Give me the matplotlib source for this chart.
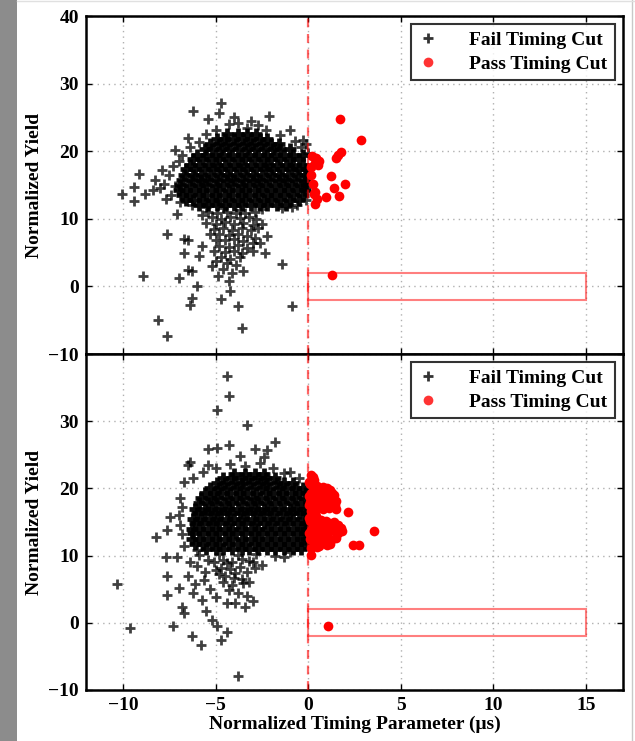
import matplotlib
matplotlib.use('Agg')
import matplotlib.pyplot as plt
from matplotlib.patches import Rectangle
from matplotlib.lines import Line2D

plt.rcParams['font.family'] = ['Liberation Serif', 'DejaVu Serif']
plt.rcParams['font.weight'] = 'bold'
plt.rcParams['font.size'] = 14

# ---- data ----
x_ticks = [-10, -5, 0, 5, 10, 15]
y_ticks = [-10, 0, 10, 20, 30, 40]
cut_box_x = [0, 15]
cut_box_y = [-2, 2]
legend_labels = ['Fail Timing Cut', 'Pass Timing Cut']

# dense core of the top panel, one row per yield level: (y, [x...])
top_core_rows = [
    (12.0, [-5.9, -5.4, -4.9, -4.5, -4.0, -3.6, -3.1, -2.6, -2.2, -1.7, -1.2]),
    (12.8, [-6.6, -6.2, -5.7, -5.2, -4.8, -4.3, -3.8, -3.4, -2.9, -2.4, -2.0, -1.5, -1.0, -0.5]),
    (13.5, [-6.8, -6.4, -5.9, -5.5, -5.0, -4.5, -4.1, -3.6, -3.2, -2.7, -2.2, -1.8, -1.3, -0.8, -0.3]),
    (14.3, [-7.0, -6.6, -6.1, -5.7, -5.2, -4.8, -4.3, -3.8, -3.4, -2.9, -2.5, -2.0, -1.5, -1.1, -0.6, -0.2]),
    (15.0, [-6.9, -6.4, -5.9, -5.5, -5.0, -4.6, -4.1, -3.6, -3.2, -2.7, -2.3, -1.8, -1.3, -0.9, -0.4, -0.1]),
    (15.8, [-6.8, -6.3, -5.8, -5.4, -4.9, -4.4, -4.0, -3.5, -3.0, -2.6, -2.1, -1.6, -1.2, -0.7, -0.2]),
    (16.5, [-6.7, -6.2, -5.8, -5.3, -4.8, -4.4, -3.9, -3.4, -3.0, -2.5, -2.0, -1.6, -1.1, -0.6, -0.2]),
    (17.3, [-6.6, -6.1, -5.6, -5.1, -4.7, -4.2, -3.7, -3.3, -2.8, -2.3, -1.9, -1.4, -0.9, -0.5, -0.1]),
    (18.0, [-6.4, -5.9, -5.4, -5.0, -4.5, -4.0, -3.6, -3.1, -2.6, -2.2, -1.7, -1.2, -0.8, -0.3]),
    (18.8, [-6.2, -5.7, -5.2, -4.8, -4.3, -3.8, -3.4, -2.9, -2.4, -2.0, -1.5, -1.0, -0.5]),
    (19.5, [-6.0, -5.5, -5.0, -4.6, -4.1, -3.6, -3.2, -2.7, -2.2, -1.8, -1.3, -0.8, -0.3]),
    (20.3, [-5.6, -5.2, -4.7, -4.3, -3.8, -3.3, -2.9, -2.4, -1.9, -1.5, -1.0]),
    (21.0, [-5.3, -4.8, -4.4, -3.9, -3.4, -3.0, -2.5, -2.0, -1.6]),
    (21.8, [-4.9, -4.5, -4.0, -3.5, -3.1, -2.6, -2.2]),
    (22.5, [-4.4, -3.8, -3.3, -2.8]),
]

top_tail = [
    (-5.4, 11.0), (-4.9, 10.9), (-4.4, 11.0), (-3.9, 10.8), (-3.4, 10.9), (-2.9, 11.0),
    (-5.2, 10.2), (-4.7, 10.0), (-4.2, 10.3), (-3.7, 10.1), (-3.2, 10.2), (-2.8, 9.9),
    (-5.5, 9.4), (-5.0, 9.3), (-4.5, 9.5), (-4.0, 9.2), (-3.5, 9.4), (-3.0, 9.1),
    (-5.1, 8.5), (-4.6, 8.6), (-4.1, 8.4), (-3.6, 8.6), (-3.1, 8.3), (-2.7, 8.6),
    (-5.3, 7.7), (-4.8, 7.8), (-4.3, 7.6), (-3.8, 7.8), (-3.3, 7.5), (-2.9, 7.2),
    (-5.0, 6.9), (-4.5, 6.8), (-4.0, 7.0), (-3.5, 6.7), (-3.0, 6.4), (-4.8, 6.0),
    (-4.3, 5.9), (-3.8, 6.1), (-3.3, 5.7), (-5.1, 5.3), (-4.5, 5.1), (-4.0, 5.3),
    (-3.6, 4.9), (-3.0, 5.2), (-4.7, 4.3), (-4.2, 4.1), (-3.7, 4.4), (-4.4, 3.4),
    (-3.9, 3.2), (-4.6, 2.6), (-4.1, 2.0), (-5.0, 3.8), (-2.6, 6.4), (-2.2, 7.4),
]

top_outliers = [
    (-6.2, 25.9), (-4.7, 27.2), (-4.8, 25.7), (-5.4, 24.7), (-3.8, 24.2), (-2.1, 25.2),
    (-2.7, 23.9), (-1.0, 23.2), (-0.3, 21.7), (-6.5, 21.9), (-7.2, 20.2), (-9.15, 16.7),
    (-9.4, 14.7), (-10.05, 13.6), (-9.4, 12.7), (-8.8, 13.6), (-8.4, 14.2), (-7.8, 15.2),
    (-7.5, 16.5), (-7.9, 17.2), (-7.4, 13.5), (-7.1, 10.7), (-5.75, 10.5), (-2.5, 9.3),
    (-0.9, 11.8), (-7.6, 7.8), (-6.7, 7.0), (-6.5, 6.8), (-6.7, 5.0), (-5.75, 6.0),
    (-5.9, 4.5), (-6.5, 2.5), (-6.3, 2.3), (-7.0, 1.3), (-8.9, 1.5), (-6.0, 0.0),
    (-6.3, -1.7), (-6.4, -2.7), (-4.7, -1.9), (-3.8, -2.9), (-4.2, -0.7), (-8.1, -4.9),
    (-7.6, -7.4), (-3.6, -6.2), (-0.9, -2.9), (-1.4, 3.3), (-2.35, 5.0), (-3.5, 2.3),
    (-4.3, 0.8), (-5.2, 3.0), (-4.85, 1.5),
    (-8.3, 15.8), (-8.0, 14.6), (-7.7, 13.0), (-7.3, 17.8), (-7.0, 18.6), (-6.8, 19.5),
    (-6.4, 20.6), (-5.9, 21.4), (-5.5, 22.5), (-5.0, 23.2), (-4.3, 24.0), (-3.3, 23.4),
    (-2.3, 23.2), (-1.5, 22.4), (-0.7, 21.5), (-0.4, 20.6), (-0.1, 21.0), (0.0, 19.8),
    (-0.1, 12.8), (-0.6, 12.0), (-1.4, 11.6), (-2.5, 11.5), (-3.7, 11.3), (-4.6, 11.6),
    (-5.5, 11.8), (-6.3, 12.0), (-6.9, 12.5), (-7.2, 14.8), (-4.0, 25.0), (-3.1, 24.5),
]

top_pass = [
    (1.72, 24.8), (2.85, 21.7), (1.77, 19.95), (1.5, 19.05), (1.6, 19.4), (0.43, 19.0),
    (0.34, 18.2), (0.6, 18.5), (0.16, 17.7), (0.52, 17.95), (1.24, 16.4), (0.25, 15.2),
    (1.41, 14.6), (1.99, 15.1), (0.34, 14.0), (0.97, 13.2), (1.65, 13.4), (0.34, 12.2),
    (0.5, 13.0), (0.16, 16.5), (0.3, 13.7), (0.2, 19.3), (1.27, 1.65),
]

bot_core_rows = [
    (11.0, [-5.5, -5.0, -4.6, -4.1, -3.6, -3.2, -2.7, -2.2, -1.8, -1.3, -0.8, -0.4]),
    (11.8, [-6.1, -5.7, -5.2, -4.8, -4.3, -3.8, -3.4, -2.9, -2.5, -2.0, -1.5, -1.1, -0.6, -0.2]),
    (12.5, [-6.3, -5.9, -5.4, -5.0, -4.5, -4.1, -3.6, -3.1, -2.7, -2.2, -1.8, -1.3, -0.8, -0.4, -0.1]),
    (13.3, [-6.2, -5.7, -5.2, -4.8, -4.3, -3.9, -3.4, -2.9, -2.5, -2.0, -1.5, -1.1, -0.6, -0.2]),
    (14.0, [-6.3, -5.9, -5.4, -5.0, -4.5, -4.1, -3.6, -3.1, -2.7, -2.2, -1.8, -1.3, -0.8, -0.4, -0.1]),
    (14.8, [-6.1, -5.7, -5.2, -4.8, -4.3, -3.8, -3.4, -2.9, -2.4, -2.0, -1.5, -1.1, -0.6, -0.2]),
    (15.5, [-6.2, -5.8, -5.3, -4.9, -4.4, -4.0, -3.5, -3.0, -2.6, -2.1, -1.7, -1.2, -0.8, -0.3]),
    (16.3, [-6.0, -5.6, -5.1, -4.7, -4.2, -3.7, -3.3, -2.8, -2.4, -1.9, -1.4, -1.0, -0.5, -0.1]),
    (17.0, [-6.1, -5.6, -5.2, -4.7, -4.3, -3.8, -3.3, -2.9, -2.4, -2.0, -1.5, -1.0, -0.6, -0.2]),
    (17.8, [-5.9, -5.4, -5.0, -4.5, -4.1, -3.6, -3.1, -2.7, -2.2, -1.8, -1.3, -0.8, -0.4]),
    (18.5, [-5.8, -5.3, -4.9, -4.4, -3.9, -3.5, -3.0, -2.6, -2.1, -1.6, -1.2, -0.7, -0.2]),
    (19.3, [-5.6, -5.1, -4.7, -4.2, -3.7, -3.3, -2.8, -2.3, -1.9, -1.4, -0.9, -0.5, -0.1]),
    (20.0, [-5.3, -4.8, -4.4, -3.9, -3.5, -3.0, -2.5, -2.1, -1.6, -1.2, -0.7, -0.3]),
    (20.8, [-4.9, -4.5, -4.0, -3.6, -3.1, -2.6, -2.2, -1.7, -1.3, -0.8]),
    (21.5, [-4.6, -4.1, -3.6, -3.2, -2.7, -2.3, -1.8]),
    (22.2, [-4.0, -3.4, -2.9, -2.4]),
]

bot_tail = [
    (-5.1, 9.0), (-4.6, 9.3), (-4.1, 9.0), (-3.6, 9.5), (-2.9, 8.2), (-4.7, 8.2),
    (-4.2, 8.0), (-3.7, 8.3), (-3.3, 7.6), (-4.5, 7.0), (-4.0, 6.7), (-3.6, 6.5),
    (-3.2, 6.0), (-4.6, 6.0), (-4.1, 5.6), (-3.8, 4.5), (-3.3, 4.0), (-3.0, 3.2),
    (-5.3, 5.0), (-5.6, 7.6), (-6.0, 8.4), (-6.1, 5.8), (-5.5, 1.8), (-6.2, 4.5),
]

bot_outliers = [
    (-4.4, 36.8), (-4.3, 33.7), (-4.95, 31.6), (-3.3, 29.4), (-1.8, 26.9), (-4.3, 26.4),
    (-4.95, 26.0), (-5.4, 25.8), (-6.4, 24.0), (-6.5, 23.5), (-2.2, 25.7), (-2.9, 25.8),
    (-1.0, 22.5), (-5.4, 23.5), (-7.45, 15.8), (-7.6, 13.8), (-8.2, 12.8), (-10.3, 5.8),
    (-9.6, -0.8), (-7.3, -0.5), (-6.3, -2.0), (-5.8, -3.3), (-3.8, -7.9), (-4.4, -1.3),
    (-4.7, -2.5), (-4.95, -0.55), (-7.7, 9.85), (-7.1, 9.85), (-7.6, 6.9), (-7.6, 4.2),
    (-7.0, 5.2), (-6.5, 6.9), (-6.4, 9.1), (-6.8, 2.4), (-6.7, 1.45), (-5.75, 3.4),
    (-5.65, 6.4), (-5.0, 7.9), (-5.0, 3.9), (-5.2, 0.45), (-4.4, 2.9), (-3.95, 2.9),
    (-3.4, 2.4), (-4.3, 4.9), (-3.5, 5.9), (-3.95, 7.4), (-3.0, 9.1), (-1.3, 9.85),
    (-5.4, 9.4), (-5.9, 10.1),
    (-6.7, 21.0), (-6.2, 21.6), (-5.7, 22.4), (-5.0, 23.0), (-4.2, 23.6), (-3.4, 23.4),
    (-2.6, 23.8), (-1.9, 23.0), (-2.4, 24.6), (-3.7, 24.8), (-1.3, 22.3), (-0.5, 21.6),
    (-6.9, 18.5), (-6.8, 17.2), (-7.0, 16.0), (-6.9, 14.6), (-6.8, 13.2), (-6.7, 11.5),
    (-6.0, 10.8), (-4.8, 10.3), (-3.8, 10.1), (-2.8, 10.3), (-1.8, 10.0), (-1.0, 10.6),
    (-3.2, 9.2), (-4.4, 8.9), (-4.8, 7.2), (-2.5, 8.6),
]

bot_pass = [
    # column hugging the cut line
    (0.15, 22.0), (0.3, 21.3), (0.1, 20.6), (0.35, 20.0), (0.15, 19.3), (0.4, 18.6),
    (0.1, 18.0), (0.35, 17.3), (0.15, 16.6), (0.4, 15.9), (0.1, 15.2), (0.35, 14.5),
    (0.15, 13.8), (0.4, 13.1), (0.1, 12.4), (0.35, 11.7), (0.15, 11.2), (0.16, 10.1),
    (0.25, 21.7), (0.05, 21.0), (0.45, 20.3), (0.25, 19.6), (0.05, 18.9), (0.3, 18.3),
    (0.05, 17.6), (0.45, 16.9), (0.3, 16.2), (0.05, 15.6), (0.45, 14.8), (0.25, 14.1),
    (0.05, 13.4), (0.45, 12.7), (0.3, 12.0), (0.5, 11.3),
    # upper bulge
    (0.8, 20.2), (1.2, 19.8), (0.7, 19.3), (1.4, 19.0), (1.0, 18.5), (0.6, 18.0),
    (1.5, 18.1), (1.2, 17.5), (0.8, 17.0), (1.5, 16.9),
    (1.0, 20.0), (0.55, 19.7), (1.3, 19.3), (0.9, 18.9), (1.25, 18.4), (0.75, 18.3),
    (0.95, 17.7), (1.45, 17.6), (0.6, 17.3), (1.1, 17.1),
    # lower bulge
    (0.7, 15.3), (1.1, 14.9), (1.6, 14.6), (0.8, 14.2), (1.3, 13.8), (1.8, 13.7),
    (0.6, 13.3), (1.0, 12.9), (1.5, 12.6), (0.7, 12.2), (1.2, 11.8), (0.6, 11.4),
    (0.95, 15.2), (1.4, 15.0), (0.55, 14.6), (1.0, 14.4), (1.5, 14.2), (1.75, 14.1),
    (0.55, 13.6), (1.05, 13.4), (1.6, 13.3), (0.85, 12.6), (1.25, 12.3), (1.0, 11.6),
    (0.85, 11.9),
    # stragglers
    (2.17, 16.5), (3.53, 13.7), (2.4, 11.6), (2.76, 11.6), (1.09, -0.45),
]


def flatten_rows(rows):
    pts = []
    for y, xs in rows:
        pts.extend((x, y) for x in xs)
    return pts


def draw_panel(ax, core_pts, fail_pts, pass_pts):
    cx = [p[0] for p in core_pts]
    cy = [p[1] for p in core_pts]
    fx = [p[0] for p in fail_pts]
    fy = [p[1] for p in fail_pts]
    px = [p[0] for p in pass_pts]
    py = [p[1] for p in pass_pts]

    # dense core: heavy strokes so the blob reads solid, like the original
    ax.plot(cx, cy, linestyle='none', marker='+', color='black', ms=8.5, mew=3.4,
            alpha=0.95, zorder=3)
    ax.plot(fx, fy, linestyle='none', marker='+', color='black', ms=7.5, mew=2.0,
            alpha=0.75, zorder=3, label=legend_labels[0])
    ax.axvline(0, color='red', lw=1.6, ls=(0, (4, 3)), alpha=0.6, zorder=4)
    ax.plot(px, py, linestyle='none', marker='o', color='red', ms=7, mew=0,
            zorder=5, label=legend_labels[1])
    ax.add_patch(Rectangle((cut_box_x[0], cut_box_y[0]), cut_box_x[1] - cut_box_x[0],
                           cut_box_y[1] - cut_box_y[0], fill=False, edgecolor='red',
                           lw=1.5, alpha=0.5, zorder=4))

    ax.set_xlim(-12, 17)
    ax.set_ylim(-10, 40)
    ax.set_xticks(x_ticks)
    ax.set_yticks(y_ticks)
    ax.grid(True, color='#b0b0b0', ls=(0, (1, 3)), lw=1.0)
    ax.set_axisbelow(True)
    ax.tick_params(direction='in', top=True, right=True, length=4, width=1, pad=5,
                   labelsize=14)
    for s in ax.spines.values():
        s.set_linewidth(1.8)
    ax.set_ylabel('Normalized Yield', fontsize=14, fontweight='bold')
    ax.yaxis.set_label_coords(-0.08, 0.5)

    leg = ax.legend(loc='upper right', numpoints=1, fontsize=14, frameon=True,
                    fancybox=False, handlelength=1.0, handletextpad=1.6,
                    borderpad=0.4, labelspacing=0.3, borderaxespad=0.4)
    leg.get_frame().set_edgecolor('black')
    leg.get_frame().set_linewidth(1.5)
    for h in leg.legend_handles:
        h.set_alpha(0.8)


fig = plt.figure(figsize=(6.35, 7.41), dpi=100)

# screenshot frame: gray bar on the left, thin borders
fig.patches.append(Rectangle((0, 0), 17 / 635, 1, transform=fig.transFigure,
                             facecolor='#8c8c8c', edgecolor='none', zorder=-5))
fig.lines.append(Line2D([632 / 635, 632 / 635], [0, 1], transform=fig.transFigure,
                        color='#c8c8c8', lw=1))
fig.lines.append(Line2D([17 / 635, 1], [1 - 1 / 741, 1 - 1 / 741],
                        transform=fig.transFigure, color='#e0e0e0', lw=1))

ax_top = fig.add_axes([86 / 635, 1 - 354 / 741, 537 / 635, 338 / 741])
ax_bot = fig.add_axes([86 / 635, 1 - 690 / 741, 537 / 635, 336 / 741])

draw_panel(ax_top, flatten_rows(top_core_rows), top_tail + top_outliers, top_pass)
draw_panel(ax_bot, flatten_rows(bot_core_rows), bot_tail + bot_outliers, bot_pass)

ax_top.tick_params(labelbottom=False)
ax_bot.set_yticklabels(['\u221210', '0', '10', '20', '30', ''])
ax_bot.set_xlabel('Normalized Timing Parameter (\u03bcs)', fontsize=14,
                  fontweight='bold', labelpad=1)

fig.savefig('out.png', dpi=100)
